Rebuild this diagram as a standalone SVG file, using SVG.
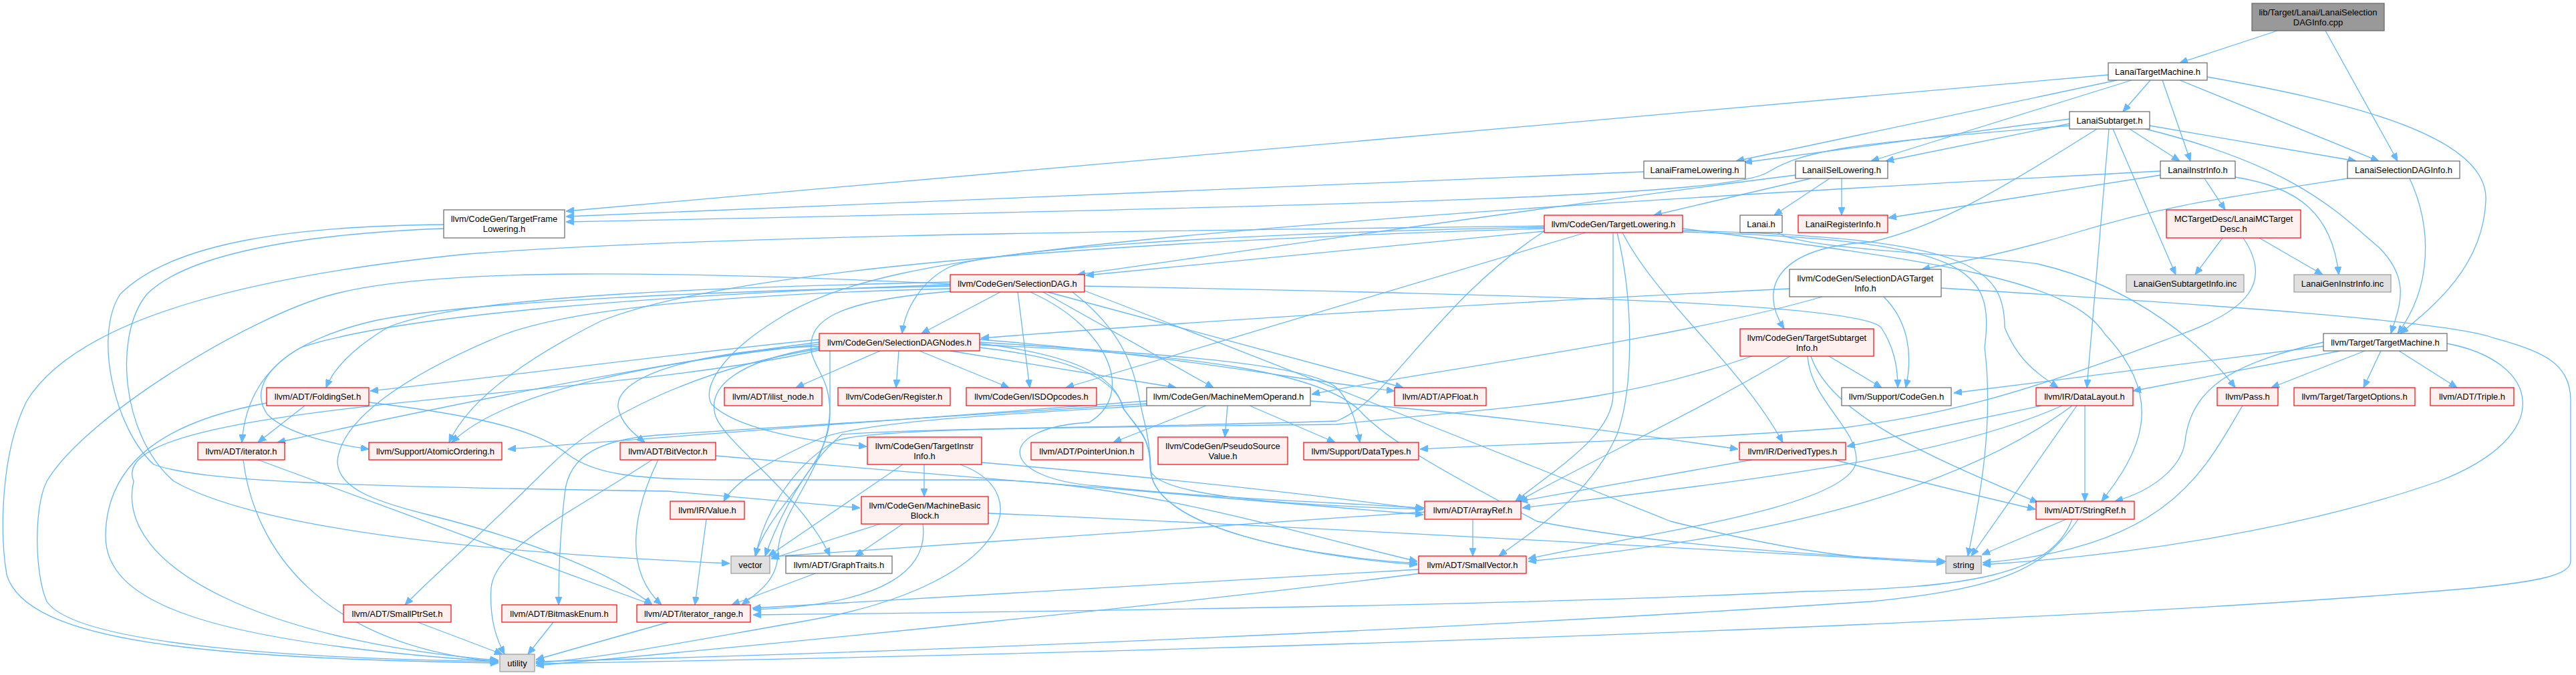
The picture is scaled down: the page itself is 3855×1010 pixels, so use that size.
<svg xmlns="http://www.w3.org/2000/svg" width="3855" height="1010" viewBox="0 0 3855 1010">
<style>
.e{fill:none;stroke:#63B8FF;stroke-width:1.3;marker-end:url(#ah)}
.w rect{fill:#FFFFFF;stroke:#666666;stroke-width:1.2}
.r rect{fill:#FFF0F0;stroke:#FF0000;stroke-width:1.2}
.s rect{fill:#E0E0E0;stroke:#999999;stroke-width:1.2}
.k rect{fill:#999999;stroke:#666666;stroke-width:1.2}
text{font-family:"Liberation Sans",Arial,Helvetica,sans-serif;font-size:13px;text-anchor:middle;fill:#000000}
</style>
<defs>
<marker id="ah" markerUnits="userSpaceOnUse" markerWidth="12" markerHeight="10" viewBox="0 0 12 10" refX="12" refY="5" orient="auto"><path d="M0,0 L12,5 L0,10 Z" fill="#63B8FF" stroke="#63B8FF"/></marker>
</defs>
<rect x="0" y="0" width="3855" height="1010" fill="#FFFFFF"/>
<g id="connectors">
<path class="e" d="M3408,46 L3262,94"/>
<path class="e" d="M3480,46 L3588,241"/>
<path class="e" d="M3218,120 L3177,167"/>
<path class="e" d="M3236,120 L3278,241"/>
<path class="e" d="M3262,120 L3560,241"/>
<path class="e" d="M3168,120 L2598,241"/>
<path class="e" d="M3190,120 L2800,241"/>
<path class="e" d="M3155,112 L847,316"/>
<path class="e" d="M3303,115 C3500,150 3725,200 3720,300 C3716,400 3640,460 3592,499"/>
<path class="e" d="M3097,178 L2610,243"/>
<path class="e" d="M3097,185 L2822,241"/>
<path class="e" d="M3097,188 C2760,215 2700,225 2645,258 C2590,290 2200,305 847,332"/>
<path class="e" d="M3187,193 L3262,241"/>
<path class="e" d="M3217,188 L3526,241"/>
<path class="e" d="M3162,193 L3256,411"/>
<path class="e" d="M3211,193 C3440,250 3500,320 3560,370 C3610,420 3590,460 3578,499"/>
<path class="e" d="M3138,193 C3000,280 2900,340 2800,362 C2660,370 2630,430 2670,492"/>
<path class="e" d="M3156,193 L3123,580"/>
<path class="e" d="M2460,257 L847,324"/>
<path class="e" d="M2738,267 L2655,322"/>
<path class="e" d="M2756,267 L2756,322"/>
<path class="e" d="M2710,267 L2475,322"/>
<path class="e" d="M2687,262 C2380,300 1900,370 1612,411"/>
<path class="e" d="M3233,262 L2826,326"/>
<path class="e" d="M3299,267 L3330,314"/>
<path class="e" d="M3345,265 C3440,280 3490,320 3500,411"/>
<path class="e" d="M3233,256 C2600,290 2100,320 1700,360 C1400,390 1250,420 1160,480 C1080,530 1050,580 1065,605 C1100,640 1200,660 1297,668"/>
<path class="e" d="M3513,267 C3300,300 3230,310 3100,350 C3000,380 2920,395 2876,403"/>
<path class="e" d="M3606,267 C3640,340 3640,430 3588,499"/>
<path class="e" d="M2660,348 C2700,375 2950,380 3050,395 C3200,430 3300,520 3345,580"/>
<path class="e" d="M3326,356 L3285,411"/>
<path class="e" d="M3381,356 L3476,411"/>
<path class="e" d="M3357,356 C3400,420 3370,465 3250,505 C3000,600 2900,620 2760,640 C2500,660 2300,662 2125,672"/>
<path class="e" d="M2414,348 L2414,590 C2414,650 2330,700 2268,750"/>
<path class="e" d="M2420,348 C2445,450 2445,580 2420,650 C2380,740 2300,790 2243,832"/>
<path class="e" d="M2428,348 C2480,450 2600,540 2668,662"/>
<path class="e" d="M2373,348 L1595,580"/>
<path class="e" d="M2311,340 C1800,350 1480,375 1420,400 C1380,420 1355,460 1350,499"/>
<path class="e" d="M2311,346 L1625,412"/>
<path class="e" d="M2311,342 C1700,360 1100,400 900,480 C780,540 700,600 672,662"/>
<path class="e" d="M2311,338 C1800,345 1100,350 700,380 C400,410 120,470 40,600 C0,680 0,800 10,860 C40,960 300,985 746,992"/>
<path class="e" d="M2311,346 C2150,450 2080,600 2000,630 C1700,640 1400,640 1260,650 C1200,700 1160,790 1145,832"/>
<path class="e" d="M2518,347 C2950,360 2985,400 2970,520 C2985,640 2960,760 2945,832"/>
<path class="e" d="M2518,345 C2950,355 3000,400 3000,490 C3020,540 3050,560 3080,580"/>
<path class="e" d="M2518,342 C2900,390 3100,420 3150,500 C3245,600 3200,680 3145,750"/>
<path class="e" d="M1497,437 L1379,499"/>
<path class="e" d="M1523,437 L1541,580"/>
<path class="e" d="M1561,437 L1816,580"/>
<path class="e" d="M1542,437 C1660,490 1700,590 1630,632 C1490,640 1490,715 1640,727 C1800,745 2000,752 2131,760"/>
<path class="e" d="M1568,437 L2100,580"/>
<path class="e" d="M1623,428 C2200,440 2780,450 2815,490 C2835,520 2840,550 2840,580"/>
<path class="e" d="M1422,422 C1100,430 700,440 580,490 C530,520 500,550 488,580"/>
<path class="e" d="M1422,426 C1000,440 600,470 450,520 C380,560 365,620 362,662"/>
<path class="e" d="M1422,432 C1100,440 850,460 743,505 C600,565 510,630 505,690 C505,730 560,750 640,770 C800,810 920,860 976,905"/>
<path class="e" d="M1605,437 C1700,510 1700,580 1710,620 C1718,650 1722,680 1722,705 C1730,790 1950,832 2121,843"/>
<path class="e" d="M1623,435 C1950,560 2300,700 2500,780 C2700,830 2800,838 2910,842"/>
<path class="e" d="M1422,425 C1000,405 650,400 500,440 C380,470 130,620 70,720 C50,760 52,860 70,900 C110,960 400,985 746,990"/>
<path class="e" d="M1422,436 C1250,450 1205,480 1215,530 C1225,560 1242,570 1242,620 C1242,700 1150,760 1130,832"/>
<path class="e" d="M1422,428 C1100,435 700,450 560,480 C430,510 365,570 400,620 C430,650 500,665 552,672"/>
<path class="e" d="M1317,525 L1191,580"/>
<path class="e" d="M1345,525 L1341,580"/>
<path class="e" d="M1376,525 L1510,580"/>
<path class="e" d="M1422,525 L1760,580"/>
<path class="e" d="M1226,508 C1000,530 700,570 554,585"/>
<path class="e" d="M1226,512 C1000,540 700,600 415,662"/>
<path class="e" d="M1226,515 C1000,540 760,580 676,662"/>
<path class="e" d="M1226,518 C1050,525 920,560 925,610 C930,635 950,650 965,662"/>
<path class="e" d="M1226,522 C1050,550 900,620 820,700 C720,800 650,860 606,905"/>
<path class="e" d="M1242,525 L1242,610 C1242,700 1165,760 1164,830 C1163,870 1130,890 1110,905"/>
<path class="e" d="M1226,520 C1100,540 1060,580 1070,620 C1080,660 1200,740 1242,832"/>
<path class="e" d="M1466,508 C1750,530 1950,570 2087,585"/>
<path class="e" d="M1466,514 C1600,530 1670,560 1680,610 C1700,640 1722,650 1721,700 C1721,740 1900,755 2130,762"/>
<path class="e" d="M1466,520 C1600,535 1670,565 1682,612 C1705,645 1722,655 1722,705 C1730,790 1950,832 2121,845"/>
<path class="e" d="M1466,512 C1750,530 1960,545 2000,580 C2020,600 2030,630 2035,662"/>
<path class="e" d="M1466,516 C1800,530 1990,560 2040,620 C2080,660 2150,700 2300,780 C2500,820 2800,835 2912,840"/>
<path class="e" d="M1226,524 C900,600 150,600 200,720 C170,850 400,960 746,988"/>
<path class="e" d="M1805,607 L1666,662"/>
<path class="e" d="M1837,607 L1833,654"/>
<path class="e" d="M1870,607 L1998,662"/>
<path class="e" d="M1716,600 L760,672"/>
<path class="e" d="M1716,604 L1000,650 C900,655 850,680 845,740 C838,800 836,860 836,905"/>
<path class="e" d="M1716,607 C1500,620 1300,630 1230,655 C1150,690 1100,720 1083,750"/>
<path class="e" d="M1961,600 C2200,615 2450,650 2601,672"/>
<path class="e" d="M2678,432 C2200,455 1800,480 1468,506"/>
<path class="e" d="M2727,444 C2500,510 2100,560 1963,590"/>
<path class="e" d="M2819,444 C2850,475 2865,520 2852,580"/>
<path class="e" d="M2905,431 C3300,455 3660,480 3730,505 C3800,525 3847,540 3847,600 L3847,840 C3847,860 3800,870 3700,880 C3000,940 1600,980 802,993"/>
<path class="e" d="M2737,533 L2816,580"/>
<path class="e" d="M2679,533 C2550,610 2400,680 2272,750"/>
<path class="e" d="M2705,533 C2710,600 2780,640 2778,690 C2770,760 2450,800 2287,836"/>
<path class="e" d="M2710,533 C2740,620 2880,680 3050,752"/>
<path class="e" d="M2622,533 C2400,610 2250,607 2000,635 C1600,640 1300,640 1250,660 C1180,700 1140,780 1131,832"/>
<path class="e" d="M664,336 C450,338 260,360 180,440 C140,500 170,640 230,695 C300,720 500,728 1000,735 L1287,760"/>
<path class="e" d="M664,342 C450,350 280,380 220,440 C170,500 180,650 260,720 C400,800 800,830 1092,843"/>
<path class="e" d="M456,607 L386,662"/>
<path class="e" d="M552,602 C700,620 800,640 850,680 C890,710 950,718 1100,718 L1480,718 C1700,722 1950,800 2121,840"/>
<path class="e" d="M399,603 C250,630 160,690 158,800 C156,900 300,960 745,990"/>
<path class="e" d="M386,688 L976,905"/>
<path class="e" d="M364,688 C380,820 480,965 745,990"/>
<path class="e" d="M985,688 C950,760 930,850 990,905"/>
<path class="e" d="M976,688 C850,770 740,820 735,880 C732,930 745,960 755,979"/>
<path class="e" d="M1071,682 L2130,770"/>
<path class="e" d="M1057,777 L1040,905"/>
<path class="e" d="M1317,784 L1154,836"/>
<path class="e" d="M1351,784 L1280,832"/>
<path class="e" d="M1381,784 C1390,850 1330,905 1127,912"/>
<path class="e" d="M1479,768 C2000,790 2600,825 2910,842"/>
<path class="e" d="M1383,695 L1383,743"/>
<path class="e" d="M1351,695 L1150,832"/>
<path class="e" d="M1437,695 C1560,740 1500,880 1200,930 C1000,965 900,985 802,992"/>
<path class="e" d="M1469,692 C1800,720 2000,745 2130,762"/>
<path class="e" d="M1220,858 L1095,905"/>
<path class="e" d="M625,931 L752,979"/>
<path class="e" d="M828,931 L790,979"/>
<path class="e" d="M1000,931 L802,987"/>
<path class="e" d="M2204,777 L2204,832"/>
<path class="e" d="M2132,766 L1154,833"/>
<path class="e" d="M2123,852 L1126,910"/>
<path class="e" d="M2125,858 C1800,900 1200,960 802,996"/>
<path class="e" d="M3092,777 L2966,830"/>
<path class="e" d="M3101,777 C3070,860 2950,880 2700,885 C2300,905 1600,915 1127,920"/>
<path class="e" d="M3110,777 C3060,850 3000,880 2800,900 C2200,940 1400,975 802,990"/>
<path class="e" d="M2622,688 L2274,750"/>
<path class="e" d="M2745,688 C2850,715 2950,740 3046,762"/>
<path class="e" d="M3108,607 L2950,832"/>
<path class="e" d="M3120,607 L3120,750"/>
<path class="e" d="M3055,607 L2764,668"/>
<path class="e" d="M3086,607 C2900,690 2600,720 2278,760"/>
<path class="e" d="M3101,607 C2950,720 2700,800 2287,840"/>
<path class="e" d="M3477,518 L2924,588"/>
<path class="e" d="M3502,525 L3192,585"/>
<path class="e" d="M3539,525 L3399,580"/>
<path class="e" d="M3563,525 L3537,580"/>
<path class="e" d="M3590,525 L3677,580"/>
<path class="e" d="M3477,512 C3360,540 3280,570 3270,660 C3265,700 3220,735 3165,750"/>
<path class="e" d="M3662,514 C3800,540 3830,650 3650,720 C3450,790 3200,830 2967,845"/>
<path class="e" d="M3356,607 C3300,700 3250,820 2967,842"/>
</g>
<g id="n_root" class="k"><rect x="3370" y="5" width="198" height="41"/><text x="3469" y="22.5">lib/Target/Lanai/LanaiSelection</text><text x="3469" y="37.5">DAGInfo.cpp</text></g>
<g id="n_LanaiTargetMachine" class="w"><rect x="3155" y="94" width="148" height="26"/><text x="3229" y="111.5">LanaiTargetMachine.h</text></g>
<g id="n_LanaiSubtarget" class="w"><rect x="3097" y="167" width="120" height="26"/><text x="3157" y="184.5">LanaiSubtarget.h</text></g>
<g id="n_LanaiFrameLowering" class="w"><rect x="2460" y="241" width="152" height="26"/><text x="2536" y="258.5">LanaiFrameLowering.h</text></g>
<g id="n_LanaiISelLowering" class="w"><rect x="2687" y="241" width="138" height="26"/><text x="2756" y="258.5">LanaiISelLowering.h</text></g>
<g id="n_LanaiInstrInfo" class="w"><rect x="3233" y="241" width="112" height="26"/><text x="3289" y="258.5">LanaiInstrInfo.h</text></g>
<g id="n_LanaiSelectionDAGInfo" class="w"><rect x="3513" y="241" width="168" height="26"/><text x="3597" y="258.5">LanaiSelectionDAGInfo.h</text></g>
<g id="n_TargetFrameLowering" class="w"><rect x="664" y="314" width="181" height="42"/><text x="754.5" y="331.5">llvm/CodeGen/TargetFrame</text><text x="754.5" y="346.5">Lowering.h</text></g>
<g id="n_TargetLowering" class="r"><rect x="2311" y="322" width="207" height="26"/><text x="2414.5" y="339.5">llvm/CodeGen/TargetLowering.h</text></g>
<g id="n_Lanai" class="w"><rect x="2604" y="322" width="63" height="26"/><text x="2635.5" y="339.5">Lanai.h</text></g>
<g id="n_LanaiRegisterInfo" class="r"><rect x="2691" y="322" width="134" height="26"/><text x="2758" y="339.5">LanaiRegisterInfo.h</text></g>
<g id="n_LanaiMCTargetDesc" class="r"><rect x="3242" y="314" width="201" height="42"/><text x="3342.5" y="331.5">MCTargetDesc/LanaiMCTarget</text><text x="3342.5" y="346.5">Desc.h</text></g>
<g id="n_SelectionDAG" class="r"><rect x="1422" y="411" width="201" height="26"/><text x="1522.5" y="428.5">llvm/CodeGen/SelectionDAG.h</text></g>
<g id="n_SelectionDAGTargetInfo" class="w"><rect x="2678" y="403" width="227" height="41"/><text x="2791.5" y="420.5">llvm/CodeGen/SelectionDAGTarget</text><text x="2791.5" y="435.5">Info.h</text></g>
<g id="n_LanaiGenSubtargetInfo" class="s"><rect x="3182" y="411" width="176" height="26"/><text x="3270" y="428.5">LanaiGenSubtargetInfo.inc</text></g>
<g id="n_LanaiGenInstrInfo" class="s"><rect x="3433" y="411" width="145" height="26"/><text x="3505.5" y="428.5">LanaiGenInstrInfo.inc</text></g>
<g id="n_SelectionDAGNodes" class="r"><rect x="1226" y="499" width="240" height="26"/><text x="1346" y="516.5">llvm/CodeGen/SelectionDAGNodes.h</text></g>
<g id="n_TargetSubtargetInfo" class="r"><rect x="2604" y="492" width="200" height="41"/><text x="2704" y="509.5">llvm/CodeGen/TargetSubtarget</text><text x="2704" y="524.5">Info.h</text></g>
<g id="n_TargetMachine" class="w"><rect x="3477" y="499" width="185" height="26"/><text x="3569.5" y="516.5">llvm/Target/TargetMachine.h</text></g>
<g id="n_FoldingSet" class="r"><rect x="399" y="580" width="153" height="27"/><text x="475.5" y="598">llvm/ADT/FoldingSet.h</text></g>
<g id="n_ilist_node" class="r"><rect x="1084" y="580" width="146" height="27"/><text x="1157" y="598">llvm/ADT/ilist_node.h</text></g>
<g id="n_Register" class="r"><rect x="1254" y="580" width="168" height="27"/><text x="1338" y="598">llvm/CodeGen/Register.h</text></g>
<g id="n_ISDOpcodes" class="r"><rect x="1446" y="580" width="195" height="27"/><text x="1543.5" y="598">llvm/CodeGen/ISDOpcodes.h</text></g>
<g id="n_MachineMemOperand" class="w"><rect x="1716" y="580" width="245" height="27"/><text x="1838.5" y="598">llvm/CodeGen/MachineMemOperand.h</text></g>
<g id="n_APFloat" class="r"><rect x="2087" y="580" width="137" height="27"/><text x="2155.5" y="598">llvm/ADT/APFloat.h</text></g>
<g id="n_CodeGen" class="w"><rect x="2756" y="580" width="164" height="27"/><text x="2838" y="598">llvm/Support/CodeGen.h</text></g>
<g id="n_DataLayout" class="r"><rect x="3047" y="580" width="145" height="27"/><text x="3119.5" y="598">llvm/IR/DataLayout.h</text></g>
<g id="n_Pass" class="r"><rect x="3318" y="580" width="91" height="27"/><text x="3363.5" y="598">llvm/Pass.h</text></g>
<g id="n_TargetOptions" class="r"><rect x="3433" y="580" width="181" height="27"/><text x="3523.5" y="598">llvm/Target/TargetOptions.h</text></g>
<g id="n_Triple" class="r"><rect x="3637" y="580" width="125" height="27"/><text x="3699.5" y="598">llvm/ADT/Triple.h</text></g>
<g id="n_iterator" class="r"><rect x="296" y="662" width="130" height="26"/><text x="361" y="679.5">llvm/ADT/iterator.h</text></g>
<g id="n_AtomicOrdering" class="r"><rect x="552" y="662" width="199" height="26"/><text x="651.5" y="679.5">llvm/Support/AtomicOrdering.h</text></g>
<g id="n_BitVector" class="r"><rect x="928" y="662" width="143" height="26"/><text x="999.5" y="679.5">llvm/ADT/BitVector.h</text></g>
<g id="n_TargetInstrInfo" class="r"><rect x="1298" y="654" width="171" height="41"/><text x="1383.5" y="671.5">llvm/CodeGen/TargetInstr</text><text x="1383.5" y="686.5">Info.h</text></g>
<g id="n_PointerUnion" class="r"><rect x="1543" y="662" width="167" height="26"/><text x="1626.5" y="679.5">llvm/ADT/PointerUnion.h</text></g>
<g id="n_PseudoSourceValue" class="r"><rect x="1733" y="654" width="194" height="41"/><text x="1830" y="671.5">llvm/CodeGen/PseudoSource</text><text x="1830" y="686.5">Value.h</text></g>
<g id="n_DataTypes" class="r"><rect x="1951" y="662" width="172" height="26"/><text x="2037" y="679.5">llvm/Support/DataTypes.h</text></g>
<g id="n_DerivedTypes" class="r"><rect x="2603" y="662" width="159" height="26"/><text x="2682.5" y="679.5">llvm/IR/DerivedTypes.h</text></g>
<g id="n_Value" class="r"><rect x="1003" y="750" width="111" height="27"/><text x="1058.5" y="768">llvm/IR/Value.h</text></g>
<g id="n_MachineBasicBlock" class="r"><rect x="1289" y="743" width="190" height="41"/><text x="1384" y="760.5">llvm/CodeGen/MachineBasic</text><text x="1384" y="775.5">Block.h</text></g>
<g id="n_ArrayRef" class="r"><rect x="2132" y="750" width="144" height="27"/><text x="2204" y="768">llvm/ADT/ArrayRef.h</text></g>
<g id="n_StringRef" class="r"><rect x="3047" y="750" width="147" height="27"/><text x="3120.5" y="768">llvm/ADT/StringRef.h</text></g>
<g id="n_vector" class="s"><rect x="1094" y="832" width="58" height="26"/><text x="1123" y="849.5">vector</text></g>
<g id="n_GraphTraits" class="w"><rect x="1176" y="832" width="159" height="26"/><text x="1255.5" y="849.5">llvm/ADT/GraphTraits.h</text></g>
<g id="n_SmallVector" class="r"><rect x="2123" y="832" width="161" height="26"/><text x="2203.5" y="849.5">llvm/ADT/SmallVector.h</text></g>
<g id="n_string" class="s"><rect x="2912" y="832" width="53" height="26"/><text x="2938.5" y="849.5">string</text></g>
<g id="n_SmallPtrSet" class="r"><rect x="514" y="905" width="161" height="26"/><text x="594.5" y="922.5">llvm/ADT/SmallPtrSet.h</text></g>
<g id="n_BitmaskEnum" class="r"><rect x="751" y="905" width="172" height="26"/><text x="837" y="922.5">llvm/ADT/BitmaskEnum.h</text></g>
<g id="n_iterator_range" class="r"><rect x="953" y="905" width="170" height="26"/><text x="1038" y="922.5">llvm/ADT/iterator_range.h</text></g>
<g id="n_utility" class="s"><rect x="748" y="979" width="52" height="26"/><text x="774" y="996.5">utility</text></g>
</svg>
